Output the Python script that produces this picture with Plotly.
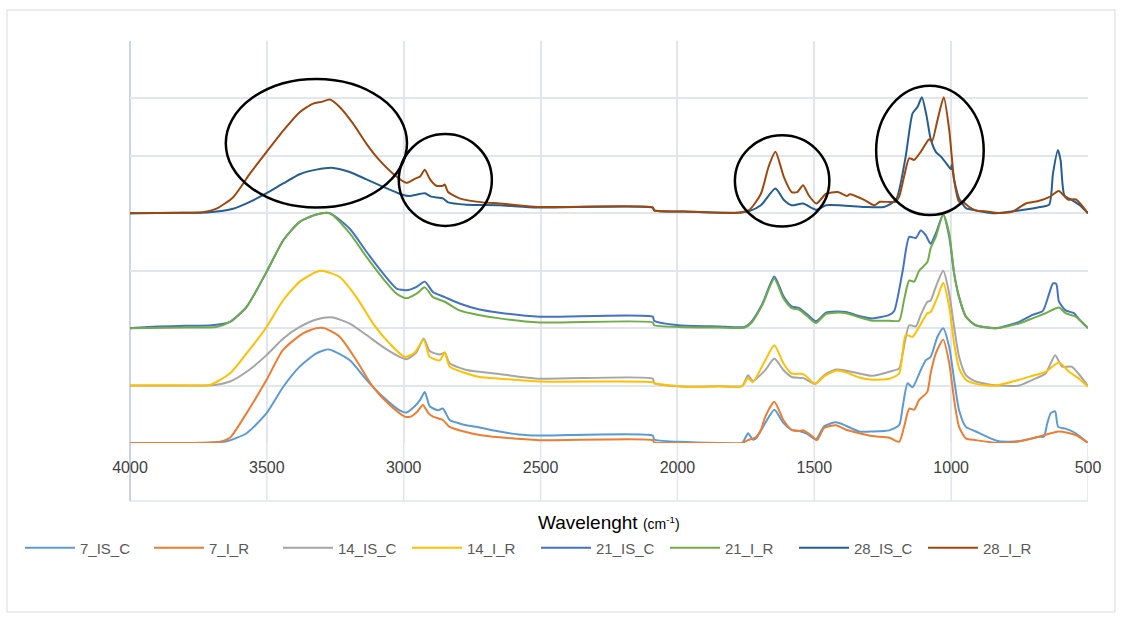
import plotly.graph_objects as go

# ---------------- data ----------------
wn_7_IS_C = [4000, 3800, 3700, 3647, 3574, 3501, 3440, 3380, 3319, 3273, 3197, 3136, 3075, 3015, 2990, 2960, 2940, 2923, 2905, 2875, 2857, 2832, 2796, 2771, 2723, 2650, 2580, 2504, 2090, 2085, 1990, 1850, 1764, 1742, 1725, 1713, 1679, 1646, 1613, 1583, 1555, 1526, 1494, 1464, 1421, 1384, 1336, 1288, 1226, 1190, 1177, 1159, 1141, 1111, 1093, 1075, 1050, 1029, 1007, 989, 971, 946, 910, 861, 825, 752, 679, 661, 649, 636, 620, 609, 582, 545, 500]
v_7_IS_C = [0.0, 0.0, 0.01, 0.03, 0.17, 0.52, 0.98, 1.33, 1.56, 1.63, 1.44, 1.1, 0.8, 0.57, 0.53, 0.64, 0.75, 0.89, 0.64, 0.57, 0.6, 0.4, 0.34, 0.31, 0.27, 0.2, 0.15, 0.13, 0.13, 0.06, 0.02, 0.0, 0.0, 0.17, 0.06, 0.08, 0.35, 0.58, 0.35, 0.23, 0.21, 0.16, 0.06, 0.29, 0.36, 0.3, 0.2, 0.2, 0.22, 0.31, 0.63, 1.04, 0.97, 1.27, 1.44, 1.5, 1.85, 2.0, 1.67, 1.1, 0.57, 0.28, 0.2, 0.09, 0.03, 0.03, 0.11, 0.11, 0.34, 0.52, 0.55, 0.28, 0.25, 0.17, 0.0]

wn_7_I_R = [4000, 3800, 3700, 3672, 3635, 3574, 3501, 3441, 3368, 3318, 3290, 3234, 3173, 3113, 3051, 2996, 2975, 2950, 2930, 2910, 2893, 2857, 2832, 2780, 2723, 2650, 2504, 2090, 2085, 1990, 1850, 1764, 1742, 1713, 1695, 1679, 1646, 1613, 1583, 1555, 1540, 1513, 1490, 1464, 1421, 1384, 1336, 1288, 1226, 1190, 1172, 1153, 1135, 1117, 1087, 1075, 1056, 1029, 1007, 989, 971, 946, 910, 825, 752, 679, 606, 545, 500]
v_7_I_R = [0.0, 0.0, 0.01, 0.02, 0.09, 0.52, 1.1, 1.62, 1.91, 2.0, 2.0, 1.85, 1.44, 0.98, 0.66, 0.46, 0.46, 0.55, 0.66, 0.52, 0.46, 0.4, 0.28, 0.2, 0.14, 0.1, 0.05, 0.05, 0.01, 0.0, 0.0, 0.0, 0.05, 0.1, 0.23, 0.46, 0.72, 0.4, 0.23, 0.21, 0.22, 0.14, 0.05, 0.26, 0.31, 0.23, 0.17, 0.12, 0.09, 0.02, 0.28, 0.6, 0.58, 0.75, 0.89, 1.21, 1.56, 1.8, 1.39, 0.75, 0.28, 0.08, 0.05, 0.0, 0.03, 0.11, 0.2, 0.14, 0.0]

wn_14_IS_C = [4000, 3800, 3690, 3635, 3574, 3501, 3440, 3380, 3319, 3264, 3197, 3136, 3075, 3015, 2990, 2955, 2927, 2905, 2868, 2850, 2832, 2770, 2723, 2650, 2504, 2090, 2085, 1968, 1850, 1764, 1742, 1725, 1679, 1646, 1613, 1583, 1540, 1497, 1464, 1421, 1384, 1336, 1288, 1226, 1190, 1177, 1153, 1129, 1111, 1087, 1075, 1056, 1029, 1007, 989, 971, 946, 910, 861, 825, 752, 703, 655, 620, 595, 560, 530, 500]
v_14_IS_C = [1.0, 1.0, 1.01, 1.07, 1.24, 1.53, 1.82, 2.02, 2.15, 2.19, 2.08, 1.88, 1.67, 1.5, 1.46, 1.57, 1.82, 1.6, 1.54, 1.57, 1.39, 1.27, 1.24, 1.2, 1.12, 1.12, 1.04, 0.98, 0.99, 0.99, 1.18, 1.08, 1.27, 1.47, 1.27, 1.15, 1.13, 1.03, 1.18, 1.28, 1.26, 1.21, 1.17, 1.24, 1.3, 1.56, 2.05, 2.03, 2.23, 2.46, 2.48, 2.72, 3.0, 2.6, 2.02, 1.5, 1.18, 1.07, 1.02, 1.0, 1.0, 1.1, 1.21, 1.53, 1.33, 1.33, 1.18, 0.99]

wn_14_I_R = [4000, 3800, 3708, 3635, 3574, 3501, 3440, 3380, 3319, 3297, 3234, 3173, 3112, 3051, 2996, 2960, 2927, 2905, 2868, 2850, 2832, 2770, 2723, 2650, 2504, 2090, 2085, 1968, 1850, 1764, 1742, 1725, 1679, 1646, 1613, 1583, 1540, 1497, 1464, 1421, 1384, 1336, 1288, 1226, 1190, 1166, 1141, 1117, 1087, 1075, 1050, 1029, 1007, 989, 971, 946, 910, 836, 752, 703, 655, 606, 569, 533, 500]
v_14_I_R = [1.0, 1.0, 1.01, 1.21, 1.56, 2.02, 2.49, 2.81, 2.98, 3.0, 2.89, 2.54, 2.08, 1.73, 1.5, 1.57, 1.8, 1.5, 1.44, 1.58, 1.33, 1.21, 1.15, 1.12, 1.07, 1.06, 1.04, 0.98, 0.99, 0.99, 1.13, 1.06, 1.44, 1.7, 1.39, 1.21, 1.2, 1.03, 1.16, 1.26, 1.23, 1.14, 1.1, 1.12, 1.21, 1.88, 1.85, 2.02, 2.26, 2.28, 2.54, 2.79, 2.37, 1.73, 1.3, 1.1, 1.03, 1.0, 1.1, 1.17, 1.24, 1.4, 1.24, 1.12, 0.98]

wn_21_IS_C = [4000, 3900, 3800, 3700, 3635, 3574, 3501, 3440, 3380, 3319, 3270, 3197, 3136, 3075, 3026, 2990, 2953, 2923, 2893, 2850, 2796, 2727, 2650, 2504, 2090, 2085, 1993, 1850, 1754, 1730, 1689, 1646, 1613, 1583, 1555, 1526, 1494, 1457, 1421, 1384, 1336, 1288, 1226, 1208, 1177, 1153, 1129, 1111, 1093, 1075, 1056, 1029, 1007, 989, 971, 946, 910, 836, 752, 703, 665, 642, 628, 616, 606, 582, 551, 530, 500]
v_21_IS_C = [2.0, 2.03, 2.04, 2.05, 2.11, 2.37, 2.98, 3.53, 3.85, 3.98, 4.0, 3.73, 3.33, 2.95, 2.69, 2.66, 2.72, 2.81, 2.63, 2.54, 2.43, 2.33, 2.27, 2.2, 2.2, 2.13, 2.05, 2.03, 2.02, 2.11, 2.43, 2.9, 2.56, 2.38, 2.35, 2.24, 2.12, 2.27, 2.29, 2.28, 2.21, 2.17, 2.23, 2.3, 3.0, 3.59, 3.57, 3.7, 3.62, 3.47, 3.65, 3.98, 3.59, 2.95, 2.54, 2.2, 2.05, 2.0, 2.11, 2.23, 2.3, 2.6, 2.78, 2.77, 2.46, 2.31, 2.26, 2.14, 2.0]

wn_21_I_R = [4000, 3800, 3685, 3635, 3574, 3501, 3440, 3380, 3319, 3270, 3197, 3136, 3075, 3026, 2990, 2953, 2923, 2893, 2850, 2796, 2727, 2650, 2504, 2090, 2085, 1993, 1850, 1754, 1730, 1689, 1646, 1613, 1583, 1555, 1526, 1494, 1457, 1421, 1384, 1336, 1288, 1226, 1190, 1172, 1153, 1135, 1117, 1087, 1075, 1056, 1029, 1007, 989, 971, 946, 910, 836, 752, 703, 655, 606, 582, 545, 500]
v_21_I_R = [2.0, 2.01, 2.02, 2.11, 2.37, 2.98, 3.53, 3.85, 3.98, 4.0, 3.65, 3.24, 2.86, 2.6, 2.52, 2.6, 2.71, 2.54, 2.46, 2.31, 2.23, 2.17, 2.1, 2.1, 2.05, 2.02, 2.01, 2.01, 2.09, 2.41, 2.86, 2.52, 2.35, 2.32, 2.21, 2.09, 2.25, 2.27, 2.26, 2.19, 2.13, 2.13, 2.13, 2.49, 2.83, 2.81, 3.0, 3.15, 3.39, 3.59, 3.98, 3.65, 2.95, 2.54, 2.2, 2.05, 2.0, 2.08, 2.17, 2.26, 2.36, 2.26, 2.2, 2.0]

wn_28_IS_C = [4000, 3800, 3710, 3623, 3562, 3501, 3440, 3380, 3319, 3258, 3197, 3136, 3075, 3015, 2981, 2923, 2900, 2857, 2838, 2770, 2650, 2510, 2090, 2085, 1976, 1780, 1737, 1695, 1642, 1611, 1583, 1541, 1492, 1457, 1316, 1246, 1226, 1200, 1190, 1166, 1141, 1123, 1107, 1090, 1075, 1056, 1038, 1013, 1002, 998, 989, 971, 946, 910, 837, 684, 642, 628, 610, 600, 586, 558, 530, 500]
v_28_IS_C = [4.0, 4.01, 4.02, 4.08, 4.2, 4.35, 4.52, 4.68, 4.76, 4.79, 4.72, 4.59, 4.46, 4.34, 4.3, 4.35, 4.29, 4.26, 4.19, 4.15, 4.14, 4.1, 4.1, 4.05, 4.03, 4.01, 4.04, 4.14, 4.43, 4.23, 4.14, 4.17, 4.06, 4.14, 4.11, 4.11, 4.15, 4.25, 4.4, 4.99, 5.74, 5.85, 6.02, 5.7, 5.3, 5.07, 4.99, 4.84, 4.77, 4.84, 4.58, 4.26, 4.09, 4.05, 4.0, 4.1, 4.15, 4.69, 5.1, 4.92, 4.31, 4.23, 4.14, 4.0]

wn_28_I_R = [4000, 3800, 3734, 3684, 3623, 3562, 3501, 3440, 3380, 3331, 3300, 3270, 3234, 3185, 3136, 3088, 3039, 2990, 2960, 2940, 2923, 2905, 2881, 2857, 2850, 2838, 2796, 2711, 2650, 2510, 2090, 2085, 1976, 1780, 1737, 1695, 1667, 1642, 1611, 1583, 1562, 1541, 1520, 1492, 1457, 1414, 1381, 1370, 1316, 1281, 1260, 1204, 1190, 1172, 1153, 1135, 1111, 1080, 1070, 1050, 1027, 1007, 989, 971, 958, 934, 910, 867, 837, 780, 727, 684, 642, 607, 573, 544, 500]
v_28_I_R = [4.0, 4.01, 4.02, 4.08, 4.28, 4.69, 5.07, 5.44, 5.76, 5.91, 5.94, 5.98, 5.85, 5.56, 5.21, 4.92, 4.69, 4.53, 4.6, 4.64, 4.76, 4.6, 4.48, 4.48, 4.5, 4.37, 4.26, 4.19, 4.17, 4.11, 4.1, 4.05, 4.03, 4.01, 4.06, 4.34, 4.81, 5.07, 4.63, 4.37, 4.37, 4.49, 4.31, 4.17, 4.34, 4.37, 4.3, 4.33, 4.23, 4.14, 4.2, 4.2, 4.29, 4.64, 4.96, 4.93, 5.07, 5.29, 5.25, 5.62, 6.02, 5.45, 4.58, 4.2, 4.2, 4.11, 4.05, 4.03, 4.01, 4.02, 4.17, 4.21, 4.28, 4.39, 4.24, 4.24, 4.0]

series_names = ["7_IS_C", "7_I_R", "14_IS_C", "14_I_R", "21_IS_C", "21_I_R", "28_IS_C", "28_I_R"]
series_x = [wn_7_IS_C, wn_7_I_R, wn_14_IS_C, wn_14_I_R, wn_21_IS_C, wn_21_I_R, wn_28_IS_C, wn_28_I_R]
series_y = [v_7_IS_C, v_7_I_R, v_14_IS_C, v_14_I_R, v_21_IS_C, v_21_I_R, v_28_IS_C, v_28_I_R]
series_colors = ["#5B9BD5", "#ED7D31", "#A5A5A5", "#FFC000", "#4472C4", "#70AD47", "#255E91", "#9E480E"]

x_ticks = [4000, 3500, 3000, 2500, 2000, 1500, 1000, 500]

# highlighted regions (wavenumber span, value span)
highlight_regions = [
    (3650, 2988, 4.10, 6.34),
    (3018, 2678, 3.78, 5.38),
    (1790, 1445, 3.77, 5.36),
    (1274, 881, 3.97, 6.22),
]

# ---------------- figure ----------------
fig = go.Figure()
for name, xs, ys, col in zip(series_names, series_x, series_y, series_colors):
    fig.add_trace(go.Scatter(x=xs, y=ys, mode="lines", name=name,
                             line=dict(color=col, width=2, shape="spline", smoothing=0.6)))

GRID = "#e1e5ec"
# plot area: x 130..1088, y 41..443 px ; extended grid down to 501
ext = -58 / 402.0
shapes = []
for t in x_ticks:
    shapes.append(dict(type="line", xref="x", yref="paper", x0=t, x1=t, y0=ext, y1=0,
                       line=dict(color=GRID, width=1.5), layer="below"))
shapes.append(dict(type="line", xref="paper", yref="paper", x0=0, x1=1, y0=ext, y1=ext,
                   line=dict(color=GRID, width=1.5), layer="below"))
shapes.append(dict(type="line", xref="paper", yref="paper", x0=0, x1=0, y0=ext, y1=1,
                   line=dict(color="#bcc6da", width=1.5), layer="below"))
# outer chart border
shapes.append(dict(type="rect", xref="paper", yref="paper",
                   x0=(7 - 130) / 958.0, x1=(1115 - 130) / 958.0,
                   y0=(443 - 612) / 402.0, y1=(443 - 10) / 402.0,
                   line=dict(color="#d9d9d9", width=1), layer="below"))
for (xa, xb, ya, yb) in highlight_regions:
    shapes.append(dict(type="circle", xref="x", yref="y", x0=xa, x1=xb, y0=ya, y1=yb,
                       line=dict(color="black", width=2.5), layer="above"))

fig.update_layout(
    width=1122, height=619,
    margin=dict(l=130, r=34, t=41, b=176),
    paper_bgcolor="white", plot_bgcolor="white",
    font=dict(family="Liberation Sans, Arial, sans-serif", color="#595959"),
    shapes=shapes,
    showlegend=True,
    legend=dict(orientation="h", xref="paper", yref="paper",
                x=(20 - 130) / 958.0, y=-(548 - 443) / 402.0, xanchor="left", yanchor="middle",
                font=dict(size=15, color="#595959"),
                entrywidth=64, entrywidthmode="pixels",
                itemwidth=50, traceorder="normal"),
    xaxis=dict(range=[4000, 500], tickvals=x_ticks, ticktext=[str(t) for t in x_ticks],
               showgrid=True, gridcolor=GRID, gridwidth=1.5, zeroline=False,
               showline=False, ticks="", ticklabelstandoff=13,
               tickfont=dict(size=16, color="#404040")),
    yaxis=dict(range=[0, 7], dtick=1, showgrid=True, gridcolor=GRID, gridwidth=1.5,
               zeroline=False, showline=False, showticklabels=False, ticks=""),
    annotations=[dict(xref="paper", yref="paper", x=0.5, y=-(522 - 443) / 402.0,
                      xanchor="center", yanchor="middle", showarrow=False,
                      text="Wavelenght <span style='font-size:14px'>(cm<sup>-1</sup>)</span>",
                      font=dict(size=19, color="black"))],
)

fig.write_html("out.html", config={"displayModeBar": False},
               post_script="document.body.style.margin='0';")
